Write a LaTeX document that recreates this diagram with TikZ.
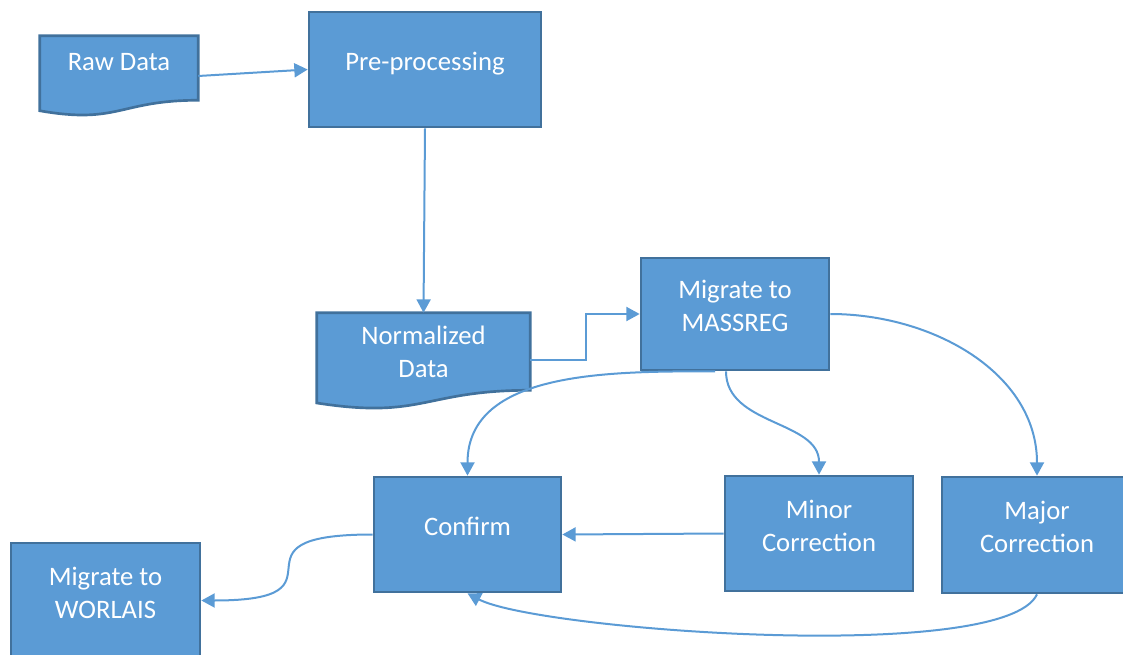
\documentclass[tikz,border=0pt]{standalone}
\usepackage{fontspec}
\setmainfont{Carlito}
\usetikzlibrary{arrows.meta,calc,backgrounds}
\definecolor{boxblue}{RGB}{91,155,213}
\definecolor{rimblue}{RGB}{65,113,156}

\begin{document}
\begin{tikzpicture}[x=0.75pt,y=0.75pt,
  proc/.style={rectangle, draw=rimblue, fill=boxblue, line width=2pt, text=white, align=center,
    inner sep=0pt, font=\fontsize{20}{24.75}\selectfont, text depth=12pt},
  doc/.style={rectangle, inner sep=0pt, text=white, align=center, font=\fontsize{20}{24.75}\selectfont},
  docshape/.style={draw=rimblue, fill=boxblue, line width=2pt},
  link/.style={draw=boxblue, line width=1.5pt, -{Triangle[length=10pt,width=10.5pt]}}]
\useasboundingbox (0,0) rectangle (1123,-655);

\node[doc, text depth=9pt, minimum width=118.5pt, minimum height=48pt] (raw) at (119,-68) {Raw Data};
\node[proc, minimum width=174pt, minimum height=86.25pt] (pre) at (425,-69.5) {Pre-processing};
\node[doc, text depth=-3pt, minimum width=159.75pt, minimum height=57.75pt] (norm) at (423.5,-351.5) {Normalized\\Data};
\node[proc, minimum width=141pt, minimum height=84pt] (mass) at (735,-314) {Migrate to\\MASSREG};
\node[proc, minimum width=140.25pt, minimum height=86.25pt] (conf) at (467.5,-534.5) {Confirm};
\node[proc, minimum width=141pt, minimum height=86.25pt] (minor) at (819,-533.5) {Minor\\Correction};
\node[proc, minimum width=142.5pt, minimum height=87pt] (major) at (1037,-535) {Major\\Correction};
\node[proc, minimum width=141.75pt, minimum height=86.25pt] (worl) at (105.5,-600.5) {Migrate to\\WORLAIS};

\begin{scope}[on background layer]
\draw[docshape] (raw.north west) -- (raw.north east) -- (raw.south east)
  .. controls (raw.south) and ($(raw.south)+(0,-24.3)$) .. ($(raw.south west)+(0,-10.5)$) -- cycle;
\draw[docshape] (norm.north west) -- (norm.north east) -- (norm.south east)
  .. controls (norm.south) and ($(norm.south)+(0,-29.3)$) .. ($(norm.south west)+(0,-12.7)$) -- cycle;
\end{scope}

\path[every edge/.style={link}]
($(raw.east)+(0,-8)$) edge (pre.west)
(pre.south) edge (norm.north)
(mass.east) edge[out=0, in=90] (major.north)
($(mass.south)+(-9,0)$) edge[out=-90, in=90] (minor.north)
($(mass.south)+(-20,0)$) edge[out=180, in=90] (conf.north)
(minor.west) edge (conf.east)
(major.south) edge[out=-115, in=-28, looseness=0.35] (conf.south)
(conf.west) edge[out=180, in=0, looseness=2.2] (worl.east)
;
\draw[link] ($(norm.east)+(0,-9)$) -- ++(56,0) |- (mass.west);
\end{tikzpicture}
\end{document}
